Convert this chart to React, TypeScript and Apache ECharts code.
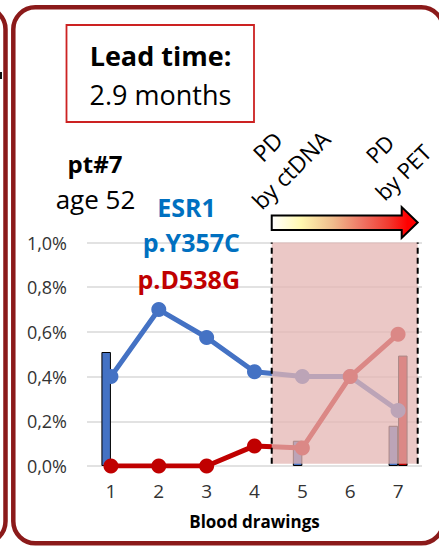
import React, { useEffect, useRef } from 'react';
import * as echarts from 'echarts';

// ---- data ----
const categories = ['1', '2', '3', '4', '5', '6', '7'];
const esr1Y357C = [0.4, 0.7, 0.575, 0.422, 0.4, 0.4, 0.248];
const esr1D538G = [0, 0, 0, 0.09, 0.08, 0.4, 0.59];
const barsY357C = [0.51, null, null, null, 0.113, null, 0.18];
const barsD538G = [null, null, null, null, null, null, 0.494];
const yMin = 0;
const yMax = 1.0;
const yStep = 0.2;
const pdWindow = [4.36, 7.41]; // PD by ctDNA -> PD by PET (drawing index units)
const pdWindowY = [0.01, 1.0];

const FONT = 'Open Sans';
const BLUE = '#4472C4';
const RED = '#C00000';
const FRAME = '#8B1A1A';

function txt(x: number, y: number, text: string, size: number, extra: any = {}) {
  const align = extra.align || 'center';
  return {
    type: 'text',
    x,
    y,
    rotation: extra.rotation || 0,
    z: 100,
    style: {
      text,
      fontSize: size,
      fontFamily: FONT,
      fontWeight: extra.bold ? 'bold' : 'normal',
      fill: extra.color || '#000',
      align,
      textAlign: align,
      verticalAlign: 'middle',
      textVerticalAlign: 'middle',
      lineHeight: extra.lineHeight,
    },
  };
}

export default function App() {
  const ref = useRef<HTMLDivElement>(null);

  useEffect(() => {
    document.body.style.margin = '0';
    const chart = echarts.init(ref.current!, null, { renderer: 'svg' });

    const option: any = {
      animation: false,
      textStyle: { fontFamily: FONT },
      grid: { left: 87, right: 17, top: 242.5, bottom: 82 },
      xAxis: [
        {
          type: 'category',
          data: categories,
          boundaryGap: true,
          axisLine: { show: false },
          axisTick: { show: false },
          axisLabel: { color: '#333', fontSize: 19, margin: 15, fontFamily: FONT },
          name: 'Blood drawings',
          nameLocation: 'middle',
          nameGap: 47,
          nameTextStyle: { fontSize: 17, fontWeight: 'bold', color: '#000', fontFamily: FONT },
        },
        { type: 'value', min: 0.5, max: 7.5, show: false },
      ],
      yAxis: {
        type: 'value',
        min: yMin,
        max: yMax,
        interval: yStep,
        axisLine: { show: false },
        axisTick: { show: false },
        axisLabel: {
          color: '#333',
          fontSize: 18,
          margin: 20,
          fontFamily: FONT,
          formatter: (v: number) => v.toFixed(1).replace('.', ',') + '%',
        },
        splitLine: { lineStyle: { color: '#D9D9D9', width: 1.5 } },
      },
      series: [
        {
          type: 'bar',
          data: barsY357C,
          barWidth: 9.5,
          barGap: '0%',
          z: 2,
          itemStyle: { color: BLUE, borderColor: '#000', borderWidth: 1 },
        },
        {
          type: 'bar',
          data: barsD538G,
          barWidth: 9.5,
          barGap: '0%',
          z: 2,
          itemStyle: { color: RED, borderColor: '#000', borderWidth: 1 },
        },
        {
          type: 'line',
          data: esr1Y357C,
          z: 3,
          symbol: 'circle',
          symbolSize: 15,
          lineStyle: { color: BLUE, width: 5 },
          itemStyle: { color: BLUE },
        },
        {
          type: 'line',
          data: esr1D538G,
          z: 4,
          symbol: 'circle',
          symbolSize: 15,
          lineStyle: { color: RED, width: 5 },
          itemStyle: { color: RED },
        },
      ],
    };

    chart.setOption(option);

    // PD window overlay positioned through the chart's own scales
    const xa = chart.convertToPixel({ xAxisIndex: 1 }, pdWindow[0]) as number;
    const xb = chart.convertToPixel({ xAxisIndex: 1 }, pdWindow[1]) as number;
    const yTop = chart.convertToPixel({ yAxisIndex: 0 }, pdWindowY[1]) as number;
    const yBot = chart.convertToPixel({ yAxisIndex: 0 }, pdWindowY[0]) as number;

    const dash = (x: number) => ({
      type: 'line',
      z: 60,
      shape: { x1: x, y1: yBot, x2: x, y2: yTop },
      style: { stroke: '#000', lineWidth: 2, lineDash: [6, 4] },
    });

    chart.setOption({
      graphic: [
        { type: 'rect', z: 50, shape: { x: xa, y: yTop, width: xb - xa, height: yBot - yTop }, style: { fill: 'rgba(228,181,179,0.75)' } },
        dash(xa),
        dash(xb),
        { type: 'rect', z: 100, shape: { x: -400, y: 7.3, width: 405.5, height: 536, r: 22 }, style: { fill: 'none', stroke: FRAME, lineWidth: 4.5 } },
        { type: 'rect', z: 100, shape: { x: 13.3, y: 7.3, width: 430, height: 536, r: 22 }, style: { fill: 'none', stroke: FRAME, lineWidth: 4.5 } },
        { type: 'rect', z: 100, shape: { x: 0, y: 72, width: 2, height: 7 }, style: { fill: '#111' } },
        { type: 'rect', z: 100, shape: { x: 66.5, y: 25, width: 187.5, height: 97 }, style: { fill: '#fff', stroke: '#CC2222', lineWidth: 1.8 } },
        txt(160.5, 55, 'Lead time:', 27, { bold: true }),
        txt(160.5, 94, '2.9 months', 27),
        txt(95, 163.5, 'pt#7', 24, { bold: true }),
        txt(95.5, 198.5, 'age 52', 26),
        txt(186.5, 206.5, 'ESR1', 25, { bold: true, color: '#0070C0' }),
        txt(240, 241.5, 'p.Y357C', 25, { bold: true, color: '#0070C0', align: 'right' }),
        txt(240, 278.5, 'p.D538G', 25, { bold: true, color: RED, align: 'right' }),
        txt(279, 158, 'PD\nby ctDNA', 23, { rotation: Math.PI / 4, lineHeight: 33 }),
        txt(391, 160, 'PD\nby PET', 22, { rotation: Math.PI / 4, lineHeight: 33 }),
        {
          type: 'polygon',
          z: 100,
          shape: {
            points: [
              [xa, 215.5],
              [xb - 16, 215.5],
              [xb - 16, 207],
              [xb, 222.5],
              [xb - 16, 238],
              [xb - 16, 230],
              [xa, 230],
            ],
          },
          style: {
            stroke: '#000',
            lineWidth: 2,
            fill: new echarts.graphic.LinearGradient(0, 0, 1, 0, [
              { offset: 0, color: '#FFFFFF' },
              { offset: 0.2, color: '#FFF8B0' },
              { offset: 0.42, color: '#F0BC8C' },
              { offset: 0.62, color: '#EE7464' },
              { offset: 0.8, color: '#F23A30' },
              { offset: 0.93, color: '#FF0000' },
              { offset: 1, color: '#FF0000' },
            ]),
          },
        },
      ],
    });

    return () => chart.dispose();
  }, []);

  return <div ref={ref} style={{ width: 439, height: 548 }} />;
}
